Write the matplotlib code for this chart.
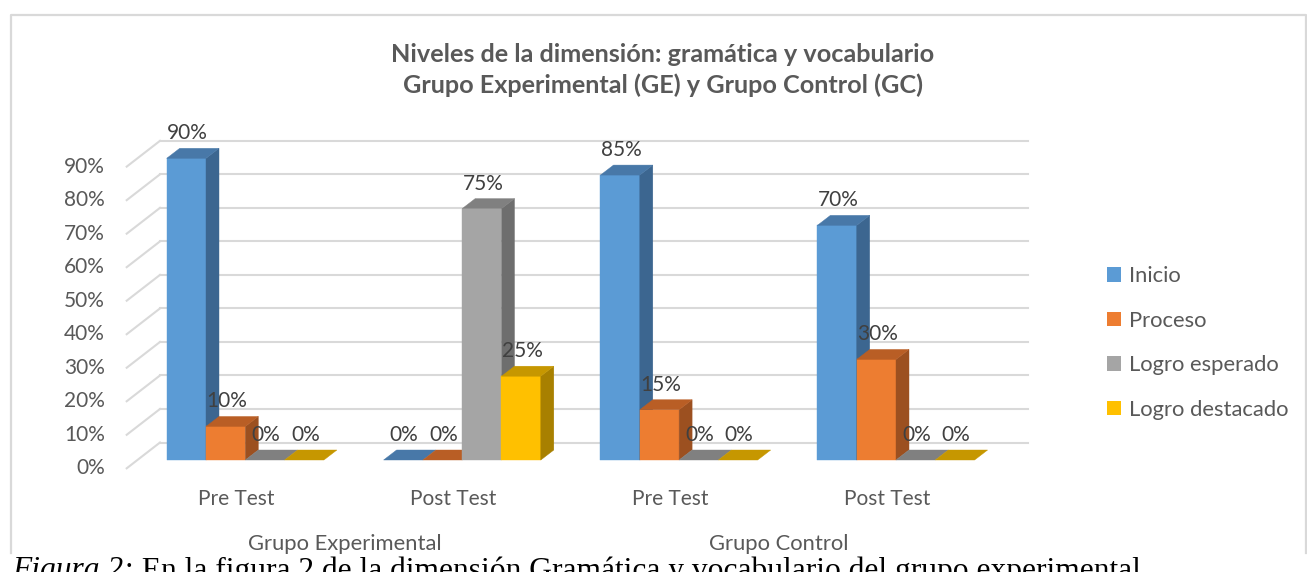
import matplotlib
matplotlib.use("Agg")
import matplotlib.pyplot as plt
from matplotlib.patches import Rectangle, Polygon, Patch
from matplotlib.lines import Line2D

plt.rcParams['font.family'] = ['Lato', 'DejaVu Sans']

# ---------------- data ----------------
categories = ["Pre Test", "Post Test", "Pre Test", "Post Test"]
groups = ["Grupo Experimental", "Grupo Control"]
series = ["Inicio", "Proceso", "Logro esperado", "Logro destacado"]
inicio = [90, 0, 85, 70]
proceso = [10, 0, 15, 30]
logro_esperado = [0, 75, 0, 0]
logro_destacado = [0, 25, 0, 0]
values = [inicio, proceso, logro_esperado, logro_destacado]
yticks = [0, 10, 20, 30, 40, 50, 60, 70, 80, 90]
title = "Niveles de la dimensión: gramática y vocabulario\nGrupo Experimental (GE) y Grupo Control (GC)"
caption_it = "Figura 2:"
caption_rest = " En la figura 2 de la dimensión Gramática y vocabulario del grupo experimental"

# ---------------- style ----------------
front_c = ["#5B9BD5", "#ED7D31", "#A5A5A5", "#FFC000"]
top_c = ["#4878A8", "#B95E25", "#808080", "#C69700"]
side_c = ["#3C6690", "#9C5020", "#6E6E6E", "#A88000"]
grid_c = "#D9D9D9"
txt_c = "#595959"
lab_c = "#404040"

W, H = 1307, 572
fig = plt.figure(figsize=(W / 100, H / 100), dpi=100)
ax = fig.add_axes([0, 0, 1, 1])
ax.axis("off")

# pixel geometry -> data scale
px_per_cat = 216.9
px_per_pct = 3.352
x0_px = 245.3      # pixel x of first category centre (front)
base_px = 460.0    # pixel y (from top) of value 0 on bar front plane
ax.set_xlim(-x0_px / px_per_cat, (W - x0_px) / px_per_cat)
ax.set_ylim(-(H - base_px) / px_per_pct, base_px / px_per_pct)

def px_x(dx):
    return dx / px_per_cat

def px_y(dy):
    return dy / px_per_pct

bw = px_x(39.3)
ddx, ddy = px_x(13), px_y(10)         # bar depth
bx, by = px_x(22.6), px_y(17.5)       # back wall offset
fx, fy = px_x(-10.7), px_y(-8.3)      # front plane offset
left_front = px_x(126.7 - x0_px)
left_back = px_x(160 - x0_px)
right_back = px_x(1028 - x0_px)

# gridlines (back wall + left floor diagonals)
for v in yticks:
    ax.add_line(Line2D([left_back, right_back], [v + by, v + by], color=grid_c, lw=1.5, zorder=1))
    ax.add_line(Line2D([left_front, left_back], [v + fy, v + by], color=grid_c, lw=1.5, zorder=1))
    ax.text(px_x(105 - x0_px), v + fy, f"{v}%", ha="right", va="center",
            fontsize=15, color=txt_c)

# bars
z = 2
for i in range(len(categories)):
    for j in range(len(series)):
        v = values[j][i]
        x0 = i - 2 * bw + j * bw
        if v > 0:
            ax.add_patch(Rectangle((x0, 0), bw, v, facecolor=front_c[j], edgecolor=front_c[j], lw=0.3, zorder=z))
            ax.add_patch(Polygon([(x0 + bw, 0), (x0 + bw + ddx, ddy), (x0 + bw + ddx, v + ddy), (x0 + bw, v)],
                                 closed=True, facecolor=side_c[j], edgecolor=side_c[j], lw=0.3, zorder=z))
        ax.add_patch(Polygon([(x0, v), (x0 + bw, v), (x0 + bw + ddx, v + ddy), (x0 + ddx, v + ddy)],
                             closed=True, facecolor=top_c[j], edgecolor=top_c[j], lw=0.3, zorder=z))
        z += 1
        ax.text(x0 + bw / 2 + px_x(1), v + ddy + px_y(15), f"{v}%", ha="center", va="center",
                fontsize=15, color=lab_c, zorder=50)

# category labels
for i, c in enumerate(categories):
    ax.text(i - px_x(9), px_y(-39), c, ha="center", va="center", fontsize=15, color=txt_c)
for g, name in enumerate(groups):
    ax.text(2 * g + 0.5 - px_x(9), px_y(-84.5), name, ha="center", va="center", fontsize=15.8, color=txt_c)

# title
fig.text(663 / W, 1 - 70 / H, title, ha="center", va="center", fontsize=18.2, fontweight="bold",
         color=txt_c, linespacing=1.4)

# legend
handles = [Patch(facecolor=front_c[j], edgecolor="none") for j in range(len(series))]
fig.legend(handles, series, loc="center left", bbox_to_anchor=(1107 / W, 1 - 343 / H),
           frameon=False, fontsize=15.8, handlelength=0.62, handleheight=0.62, handletextpad=0.4,
           labelspacing=1.12, borderpad=0, borderaxespad=0, labelcolor=txt_c)

# chart border
fig.add_artist(Line2D([11 / W, 11 / W, 1306 / W, 1306 / W],
                      [1 - 553 / H, 1 - 15 / H, 1 - 15 / H, 1 - 553 / H],
                      color="#D9D9D9", lw=1.6))

# caption (partially cut at the bottom, as in the source)
t1 = fig.text(12 / W, 1 - 556 / H, caption_it, ha="left", va="top", fontsize=22.7,
              family="Liberation Serif", style="italic", color="black")
fig.canvas.draw()
bb = t1.get_window_extent()
fig.text(bb.x1 / W, 1 - 556 / H, caption_rest, ha="left", va="top", fontsize=22.7,
         family="Liberation Serif", color="black")

fig.savefig("out.png", dpi=100)
